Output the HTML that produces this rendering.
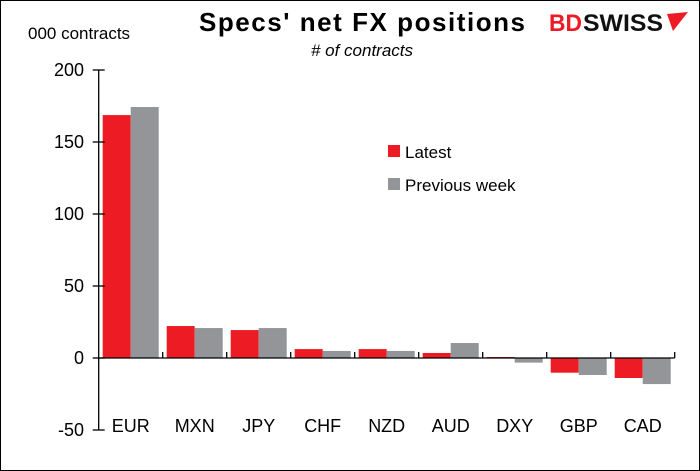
<!DOCTYPE html>
<html><head><meta charset="utf-8"><style>
body{margin:0;background:#fff}
svg{display:block;font-family:"Liberation Sans",Arial,sans-serif}
</style></head><body>
<svg id="chart" width="700" height="471" viewBox="0 0 700 471">
<rect x="0.5" y="0.5" width="699" height="470" fill="#fff" stroke="#000" stroke-width="1"/>
<text x="362" y="31" font-size="26" font-weight="bold" text-anchor="middle" textLength="326">Specs' net FX positions</text>
<text x="362" y="56" font-size="17" font-style="italic" text-anchor="middle"># of contracts</text>
<text x="28" y="39" font-size="17">000 contracts</text>
<g>
<text x="549" y="31" font-size="24" font-weight="bold" fill="#ed1c24" textLength="33" lengthAdjust="spacingAndGlyphs">BD</text>
<text x="583" y="31" font-size="24" font-weight="bold" fill="#111" textLength="80" lengthAdjust="spacingAndGlyphs">SWISS</text>
<path d="M667 14 L688 12 L673 31 Z" fill="#ed1c24"/>
</g>
<g id="plot"></g>
<g>
<rect x="388" y="145" width="12" height="12" fill="#ed1c24"/>
<text x="405" y="158" font-size="17">Latest</text>
<rect x="388" y="178" width="12" height="12" fill="#939598"/>
<text x="405" y="191" font-size="17">Previous week</text>
</g>
</svg>
<script>
const categories=["EUR","MXN","JPY","CHF","NZD","AUD","DXY","GBP","CAD"];
const latest=[168.7,22.2,19.4,6.2,6.2,3.5,0.7,-10.2,-13.9];
const previous=[174.3,20.8,20.8,4.9,4.9,10.4,-3.2,-11.8,-18.1];
const yTicks=[200,150,100,50,0,-50];
const NS="http://www.w3.org/2000/svg";
const g=document.getElementById("plot");
const x0=98.7,cw=64,y0=358,ppu=72/50;
function xs(i){return x0+i*cw;}
function ys(v){return y0-v*ppu;}
function mk(t,a){const e=document.createElementNS(NS,t);for(const k in a)e.setAttribute(k,a[k]);g.appendChild(e);return e;}
categories.forEach((c,i)=>{
  const vals=[latest[i],previous[i]],cols=["#ed1c24","#939598"];
  vals.forEach((v,j)=>{
    const r=mk("rect",{x:xs(i)+4+j*28,y:Math.min(ys(v),y0),width:28,height:Math.abs(ys(v)-y0),fill:cols[j]});
    
    
  });
  const l=mk("text",{x:xs(i)+cw/2,y:432,"font-size":18,"text-anchor":"middle"});
  l.textContent=c;
  
  
});
const ya=mk("line",{x1:x0,y1:ys(yTicks[0]),x2:x0,y2:ys(yTicks[yTicks.length-1]),stroke:"#000","stroke-width":1.3});


yTicks.forEach(t=>{
  const tk=mk("line",{x1:x0-6,y1:ys(t),x2:x0+6,y2:ys(t),stroke:"#000","stroke-width":1.3});
  
  
  const tl=mk("text",{x:84,y:ys(t)+6,"font-size":18,"text-anchor":"end"});
  tl.textContent=t;
  
  
});
const xa=mk("line",{x1:x0,y1:y0,x2:xs(categories.length),y2:y0,stroke:"#000","stroke-width":1.3});


for(let i=1;i<=categories.length;i++){
  const tk=mk("line",{x1:xs(i),y1:y0-6,x2:xs(i),y2:y0,stroke:"#000","stroke-width":1.3});
  
  
}
</script>
</body></html>
